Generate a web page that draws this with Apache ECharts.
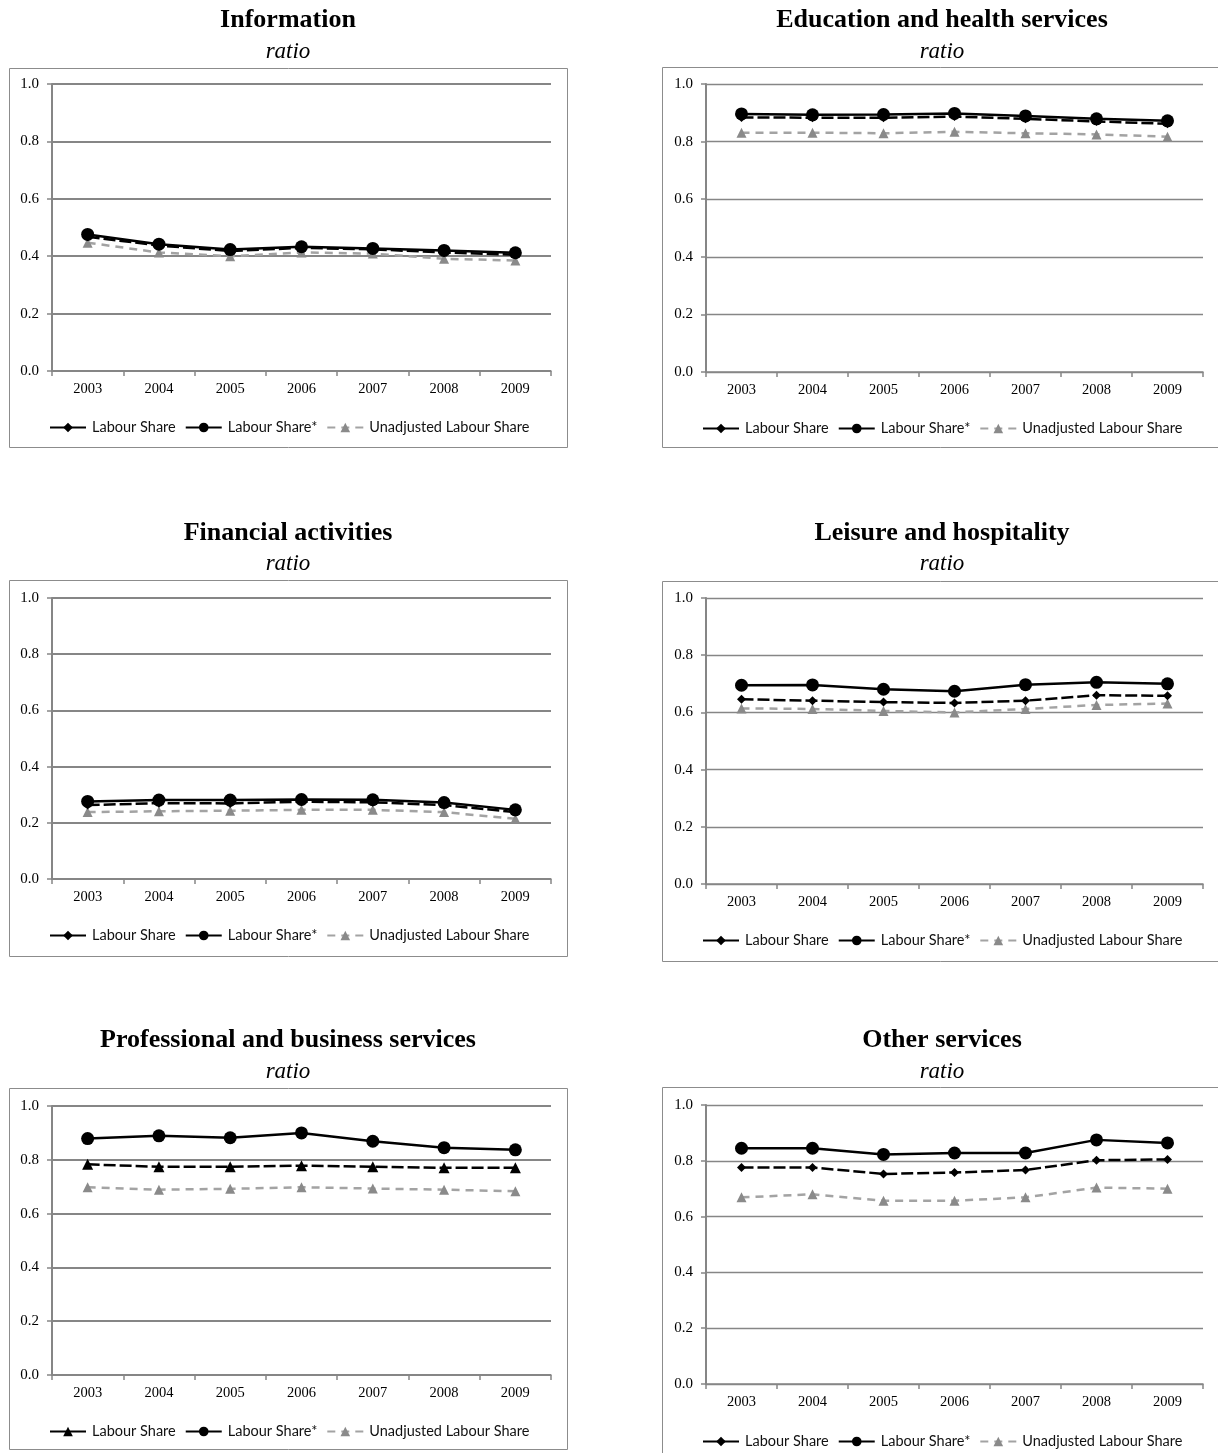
<!DOCTYPE html>
<html>
<head>
<meta charset="utf-8">
<title>Labour share by industry</title>
<script src="https://cdn.jsdelivr.net/npm/echarts@6/dist/echarts.min.js"></script>
<style>
  html, body { margin: 0; padding: 0; background: #fff; }
  body { position: relative; width: 1218px; height: 1453px; overflow: hidden; }
  .panel { position: absolute; }
</style>
</head>
<body>
<div id="p1" class="panel" style="left:0;top:0;width:609px;height:510px"></div>
<div id="p2" class="panel" style="left:609px;top:0;width:609px;height:510px"></div>
<div id="p3" class="panel" style="left:0;top:510px;width:609px;height:510px"></div>
<div id="p4" class="panel" style="left:609px;top:510px;width:609px;height:510px"></div>
<div id="p5" class="panel" style="left:0;top:1020px;width:609px;height:433px"></div>
<div id="p6" class="panel" style="left:609px;top:1020px;width:609px;height:433px"></div>
<script>
// Categories and tick values shared by every panel
const years = ['2003', '2004', '2005', '2006', '2007', '2008', '2009'];
const yTicks = [0.0, 0.2, 0.4, 0.6, 0.8, 1.0];
const seriesNames = ['Labour Share', 'Labour Share*', 'Unadjusted Labour Share'];
const subtitle = 'ratio';

// Information
const infoLabour    = [0.468, 0.437, 0.418, 0.429, 0.424, 0.413, 0.405];
const infoLabourAdj = [0.476, 0.442, 0.423, 0.433, 0.427, 0.420, 0.412];
const infoUnadj     = [0.447, 0.413, 0.400, 0.413, 0.409, 0.391, 0.385];

// Education and health services
const eduLabour     = [0.884, 0.883, 0.883, 0.887, 0.879, 0.870, 0.862];
const eduLabourAdj  = [0.896, 0.893, 0.894, 0.898, 0.889, 0.879, 0.872];
const eduUnadj      = [0.831, 0.831, 0.829, 0.834, 0.829, 0.825, 0.817];

// Financial activities
const finLabour     = [0.263, 0.270, 0.269, 0.275, 0.273, 0.263, 0.238];
const finLabourAdj  = [0.276, 0.281, 0.281, 0.283, 0.282, 0.272, 0.246];
const finUnadj      = [0.238, 0.241, 0.243, 0.246, 0.246, 0.238, 0.214];

// Leisure and hospitality
const leiLabour     = [0.646, 0.641, 0.636, 0.633, 0.641, 0.660, 0.658];
const leiLabourAdj  = [0.695, 0.696, 0.681, 0.674, 0.697, 0.705, 0.700];
const leiUnadj      = [0.614, 0.612, 0.605, 0.600, 0.612, 0.626, 0.631];

// Professional and business services
const proLabour     = [0.783, 0.774, 0.774, 0.778, 0.774, 0.770, 0.770];
const proLabourAdj  = [0.879, 0.889, 0.882, 0.900, 0.869, 0.845, 0.837];
const proUnadj      = [0.698, 0.689, 0.692, 0.698, 0.693, 0.689, 0.683];

// Other services
const othLabour     = [0.776, 0.776, 0.753, 0.758, 0.767, 0.802, 0.805];
const othLabourAdj  = [0.845, 0.845, 0.823, 0.828, 0.828, 0.875, 0.864];
const othUnadj      = [0.669, 0.680, 0.657, 0.657, 0.669, 0.704, 0.700];

const panels = [
  { el: 'p1', title: 'Information', labour: infoLabour, labourAdj: infoLabourAdj, unadj: infoUnadj, labourSymbol: 'diamond' },
  { el: 'p2', title: 'Education and health services', labour: eduLabour, labourAdj: eduLabourAdj, unadj: eduUnadj, labourSymbol: 'diamond' },
  { el: 'p3', title: 'Financial activities', labour: finLabour, labourAdj: finLabourAdj, unadj: finUnadj, labourSymbol: 'diamond' },
  { el: 'p4', title: 'Leisure and hospitality', labour: leiLabour, labourAdj: leiLabourAdj, unadj: leiUnadj, labourSymbol: 'diamond' },
  { el: 'p5', title: 'Professional and business services', labour: proLabour, labourAdj: proLabourAdj, unadj: proUnadj, labourSymbol: 'triangle' },
  { el: 'p6', title: 'Other services', labour: othLabour, labourAdj: othLabourAdj, unadj: othUnadj, labourSymbol: 'diamond' }
];

// Placement of each panel's frame, plot area, headings and legend (px, inside its div)
const layouts = {
  p1: { box: [9, 68, 558, 379], grid: [52, 84, 499, 287], titleY: 7, subY: 40, legendX: 44, legendY: 415, gridW: 2 },
  p2: { box: [53, 67, 560, 380], grid: [97, 84, 497, 288], titleY: 7, subY: 40, legendX: 88, legendY: 416, gridW: 1.3 },
  p3: { box: [9, 70, 558, 376], grid: [52, 88, 499, 281], titleY: 10, subY: 42, legendX: 44, legendY: 413, gridW: 2 },
  p4: { box: [53, 71, 560, 380], grid: [97, 88, 497, 286], titleY: 10, subY: 42, legendX: 88, legendY: 418, gridW: 1.3 },
  p5: { box: [9, 68, 558, 361], grid: [52, 86, 499, 269], titleY: 7, subY: 40, legendX: 44, legendY: 399, gridW: 2 },
  p6: { box: [53, 67, 560, 400], grid: [97, 85, 497, 279], titleY: 7, subY: 40, legendX: 88, legendY: 409, gridW: 1.3 }
};

const AXIS_GREY = '#868686';
const SERIF = 'Liberation Serif';
const SANS = 'Lato';

function buildOption(p, L) {
  const cx = L.box[0] + L.box[2] / 2;
  const labourSize = p.labourSymbol === 'triangle' ? 11 : 9;
  return {
    animation: false,
    backgroundColor: '#fff',
    title: [
      { text: p.title, left: cx, top: L.titleY, textAlign: 'center', padding: 0,
        textStyle: { fontFamily: SERIF, fontSize: 26, fontWeight: 'bold', color: '#000' } },
      { text: subtitle, left: cx, top: L.subY, textAlign: 'center', padding: 0,
        textStyle: { fontFamily: SERIF, fontSize: 23, fontStyle: 'italic', fontWeight: 'normal', color: '#000' } }
    ],
    graphic: [{
      type: 'rect', silent: true, z: -1,
      shape: { x: L.box[0] + 0.5, y: L.box[1] + 0.5, width: L.box[2], height: L.box[3] },
      style: { fill: 'none', stroke: '#8c8c8c', lineWidth: 1 }
    }],
    grid: { left: L.grid[0], top: L.grid[1], width: L.grid[2], height: L.grid[3], containLabel: false },
    legend: {
      left: L.legendX, top: L.legendY, orient: 'horizontal',
      data: [
        { name: seriesNames[0], lineStyle: { type: 'solid' } },
        { name: seriesNames[1] },
        { name: seriesNames[2] }
      ],
      itemWidth: 36, itemHeight: 12, itemGap: 9, selectedMode: false,
      textStyle: { fontFamily: SANS, fontSize: 14.5, color: '#111', padding: [0, 0, 0, 1] }
    },
    xAxis: {
      type: 'category', data: years, boundaryGap: true,
      axisLine: { show: true, lineStyle: { color: AXIS_GREY, width: 1.5 } },
      axisTick: { show: true, length: 5, alignWithLabel: false, lineStyle: { color: AXIS_GREY, width: 1.5 } },
      axisLabel: { fontFamily: SERIF, fontSize: 14.5, color: '#000', margin: 11 },
      splitLine: { show: false }
    },
    yAxis: {
      type: 'value', min: yTicks[0], max: yTicks[yTicks.length - 1], interval: yTicks[1] - yTicks[0],
      axisLine: { show: true, lineStyle: { color: AXIS_GREY, width: 2 } },
      axisTick: { show: true, length: 5, lineStyle: { color: AXIS_GREY, width: 1.5 } },
      axisLabel: { fontFamily: SERIF, fontSize: 15, color: '#000', margin: 13,
        formatter: v => v.toFixed(1) },
      splitLine: { show: true, lineStyle: { color: AXIS_GREY, width: L.gridW } }
    },
    series: [
      {
        name: seriesNames[2], type: 'line', data: p.unadj, z: 2,
        symbol: 'triangle', symbolSize: 10,
        itemStyle: { color: '#8a8a8a' },
        lineStyle: { color: '#a3a3a3', width: 2.5, type: [8, 6] }
      },
      {
        name: seriesNames[0], type: 'line', data: p.labour, z: 3,
        symbol: p.labourSymbol, symbolSize: labourSize,
        itemStyle: { color: '#000' },
        lineStyle: { color: '#000', width: 2.5, type: [12, 4] }
      },
      {
        name: seriesNames[1], type: 'line', data: p.labourAdj, z: 4,
        symbol: 'circle', symbolSize: 13,
        itemStyle: { color: '#000' },
        lineStyle: { color: '#000', width: 2.5 }
      }
    ]
  };
}

panels.forEach(p => {
  const chart = echarts.init(document.getElementById(p.el), null, { renderer: 'canvas' });
  chart.setOption(buildOption(p, layouts[p.el]));
});
</script>
</body>
</html>
